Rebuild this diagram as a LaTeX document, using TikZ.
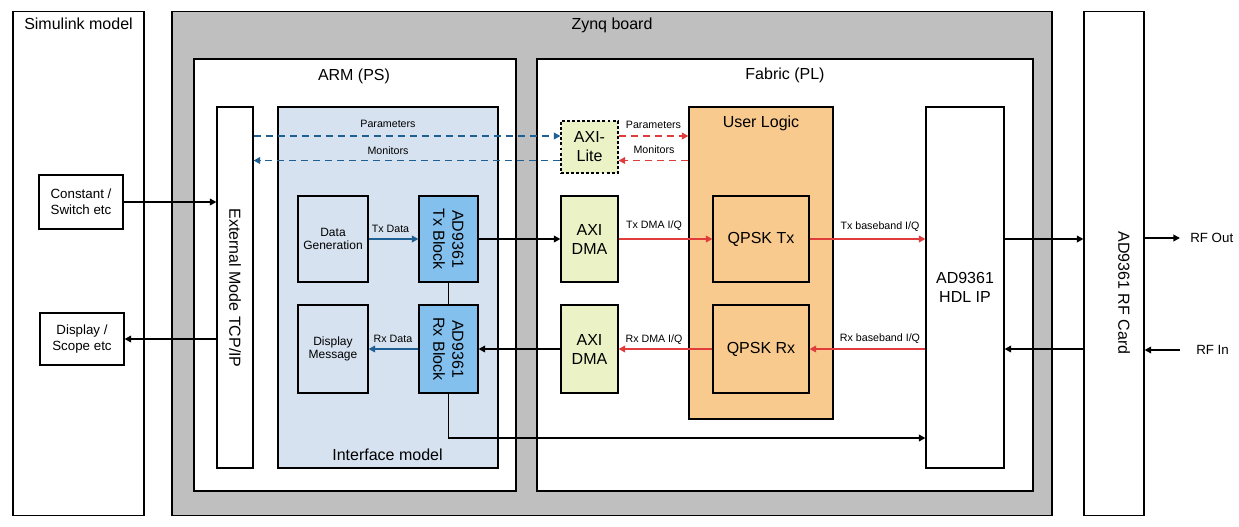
\documentclass[tikz,border=0pt]{standalone}
\usepackage{fontspec}
\setmainfont{Liberation Sans}
\usepackage{xcolor}
\usepackage{tikz}
\usetikzlibrary{arrows.meta}
\definecolor{zynqgrey}{HTML}{BFBFBF}
\definecolor{ifblue}{HTML}{D6E2F0}
\definecolor{blkblue}{HTML}{84C0EE}
\definecolor{axigreen}{HTML}{EBF2C6}
\definecolor{ulorange}{HTML}{F9CA8E}
\definecolor{lineblue}{HTML}{1E5F94}
\definecolor{linered}{HTML}{E03C3C}
\newcommand{\ttlsize}{\fontsize{12pt}{14.25pt}\selectfont}
\newcommand{\midsize}{\fontsize{10pt}{12pt}\selectfont}
\newcommand{\subsize}{\fontsize{9pt}{10pt}\selectfont}
\newcommand{\lblsize}{\fontsize{8pt}{9.6pt}\selectfont}
\tikzset{
  blkframe/.style 2 args={draw=black, line width=0.8pt, inner sep=0pt, align=center, minimum width=#1*0.75pt, minimum height=#2*0.75pt},
  ttl/.style={anchor=base, inner sep=0pt, font=\ttlsize},
  bigtxt/.style={align=center, inner sep=0pt, font=\ttlsize},
  midtxt/.style={align=center, font=\midsize},
  smalltxt/.style={align=center, font=\subsize},
  lbl/.style={anchor=base, inner sep=0pt, font=\lblsize},
  arrtip/.style={-{Triangle[length=5pt,width=5pt]}},
  conn/.style={line width=1.4pt, arrtip},
  blueconn/.style={conn, draw=lineblue},
  redconn/.style={conn, draw=linered},
  bluedash/.style={blueconn, dash pattern=on 5.25pt off 3.75pt},
  reddash/.style={redconn, dash pattern=on 5.25pt off 3.75pt}
}
\def\scale{0.75pt}

\begin{document}
\begin{tikzpicture}[x=\scale, y=-\scale]
  % \draw[gray] (0,0) grid[step=100] (1239,526);
  \useasboundingbox (0,0) rectangle (1239,526);

  % outer frames
  \node[blkframe={131}{504}] (simulink) at (78.5,263.5) {};
  \node[ttl] (simttl) at (78.5,29.5) {Simulink model};
  \node[blkframe={880}{504}, fill=zynqgrey] (zynq) at (612,263.5) {};
  \node[ttl] (zynqttl) at (612,29.5) {Zynq board};
  \node[blkframe={60}{504}] (rfcard) at (1114,263.5) {};
  \node[bigtxt, rotate=-90] (rfcardtxt) at (1124,293) {AD9361 RF Card};
  \node[blkframe={322}{432}, fill=white] (arm) at (355,275) {};
  \node[ttl] (armttl) at (354,80) {ARM (PS)};
  \node[blkframe={496}{432}, fill=white] (fabric) at (785,275) {};
  \node[ttl] (fabttl) at (785,79.5) {Fabric (PL)};

  % simulink side
  \node[blkframe={84}{54}, midtxt] (constant) at (81,202) {Constant /\\Switch etc};
  \node[blkframe={84}{52}, midtxt] (dispscope) at (82,339) {Display /\\Scope etc};

  % ARM side
  \node[blkframe={36}{361}, fill=white] (extmode) at (235,287.5) {};
  \node[bigtxt, rotate=-90] (extmodetxt) at (235,288) {External Mode TCP/IP};
  \node[blkframe={220}{361}, fill=ifblue] (ifmodel) at (388,287.5) {};
  \node[ttl] (ifttl) at (387.5,460) {Interface model};
  \node[blkframe={70}{86}, smalltxt] (datagen) at (333,239) {Data\\Generation};
  \node[blkframe={70}{88}, smalltxt] (dispmsg) at (333,349) {Display\\Message};
  \node[blkframe={59}{86}, fill=blkblue] (txblk) at (448.5,239) {};
  \node[bigtxt, rotate=-90] (txblktxt) at (448.5,239) {AD9361\\Tx Block};
  \node[blkframe={59}{88}, fill=blkblue] (rxblk) at (448.5,349) {};
  \node[bigtxt, rotate=-90] (rxblktxt) at (448.5,349) {AD9361\\Rx Block};

  % fabric side
  \node[blkframe={57}{52}, fill=axigreen, dash pattern=on 2.2pt off 1.6pt, font=\ttlsize] (axilite) at (589.5,147) {AXI-\\Lite};
  \node[blkframe={57}{86}, fill=axigreen, font=\ttlsize] (txdma) at (589.5,239) {AXI\\DMA};
  \node[blkframe={57}{88}, fill=axigreen, font=\ttlsize] (rxdma) at (589.5,349) {AXI\\DMA};
  \node[blkframe={144}{312}, fill=ulorange] (userlogic) at (761,263) {};
  \node[ttl] (ulttl) at (761,127) {User Logic};
  \node[blkframe={96}{86}, fill=ulorange, font=\ttlsize] (qpsktx) at (761,239) {QPSK Tx};
  \node[blkframe={96}{88}, fill=ulorange, font=\ttlsize] (qpskrx) at (761,349) {QPSK Rx};
  \node[blkframe={78}{361}, fill=white, font=\ttlsize] (hdl) at (965,287.5) {AD9361\\HDL IP};

  % RF ports
  \node[midtxt, anchor=west, inner ysep=0pt, inner xsep=7.5pt] (rfout) at (1180,238) {RF Out};
  \node[midtxt, anchor=west, inner ysep=0pt, inner xsep=12pt] (rfin) at (1180,350) {RF In};

  % connectors
  \coordinate (par) at (589.5,136);
  \coordinate (mon) at (589.5,160.5);
  \coordinate (bus) at (0,438);
  \draw[conn] (constant.east) -- (constant -| extmode.west);
  \draw[conn] (dispscope -| extmode.west) -- (dispscope.east);
  \draw[bluedash] (par -| extmode.east) -- (par -| axilite.west);
  \draw[bluedash] (mon -| axilite.west) -- (mon -| extmode.east);
  \draw[reddash] (par -| axilite.east) -- (par -| userlogic.west);
  \draw[reddash] (mon -| userlogic.west) -- (mon -| axilite.east);
  \draw[blueconn] (datagen) -- (txblk);
  \draw[blueconn] (rxblk) -- (dispmsg);
  \draw[line width=1.4pt] (txblk) -- (rxblk);
  \draw[conn] (txblk) -- (txdma);
  \draw[conn] (rxdma) -- (rxblk);
  \draw[conn] (rxblk.south) |- (bus -| hdl.west);
  \draw[redconn] (txdma) -- (qpsktx);
  \draw[redconn] (qpskrx) -- (rxdma);
  \draw[redconn] (qpsktx) -- (qpsktx -| hdl.west);
  \draw[redconn] (qpskrx -| hdl.west) -- (qpskrx);
  \draw[conn] (qpsktx -| hdl.east) -- (qpsktx -| rfcard.west);
  \draw[conn] (qpskrx -| rfcard.west) -- (qpskrx -| hdl.east);
  \draw[conn] (rfout -| rfcard.east) -- (rfout.west);
  \draw[conn] (rfin.west) -- (rfin -| rfcard.east);

  % labels
  \node[lbl] (parlbl) at (388,127) {Parameters};
  \node[lbl] (monlbl) at (388,154) {Monitors};
  \node[lbl] (parlblpl) at (653.5,128) {Parameters};
  \node[lbl] (monlblpl) at (654,153) {Monitors};
  \node[lbl] (txdatalbl) at (390.5,232) {Tx Data};
  \node[lbl] (rxdatalbl) at (393,342) {Rx Data};
  \node[lbl] (txdmalbl) at (654,228) {Tx DMA I/Q};
  \node[lbl] (rxdmalbl) at (654,342) {Rx DMA I/Q};
  \node[lbl] (txbblbl) at (880,229) {Tx baseband I/Q};
  \node[lbl] (rxbblbl) at (880,341) {Rx baseband I/Q};
\end{tikzpicture}
\end{document}
